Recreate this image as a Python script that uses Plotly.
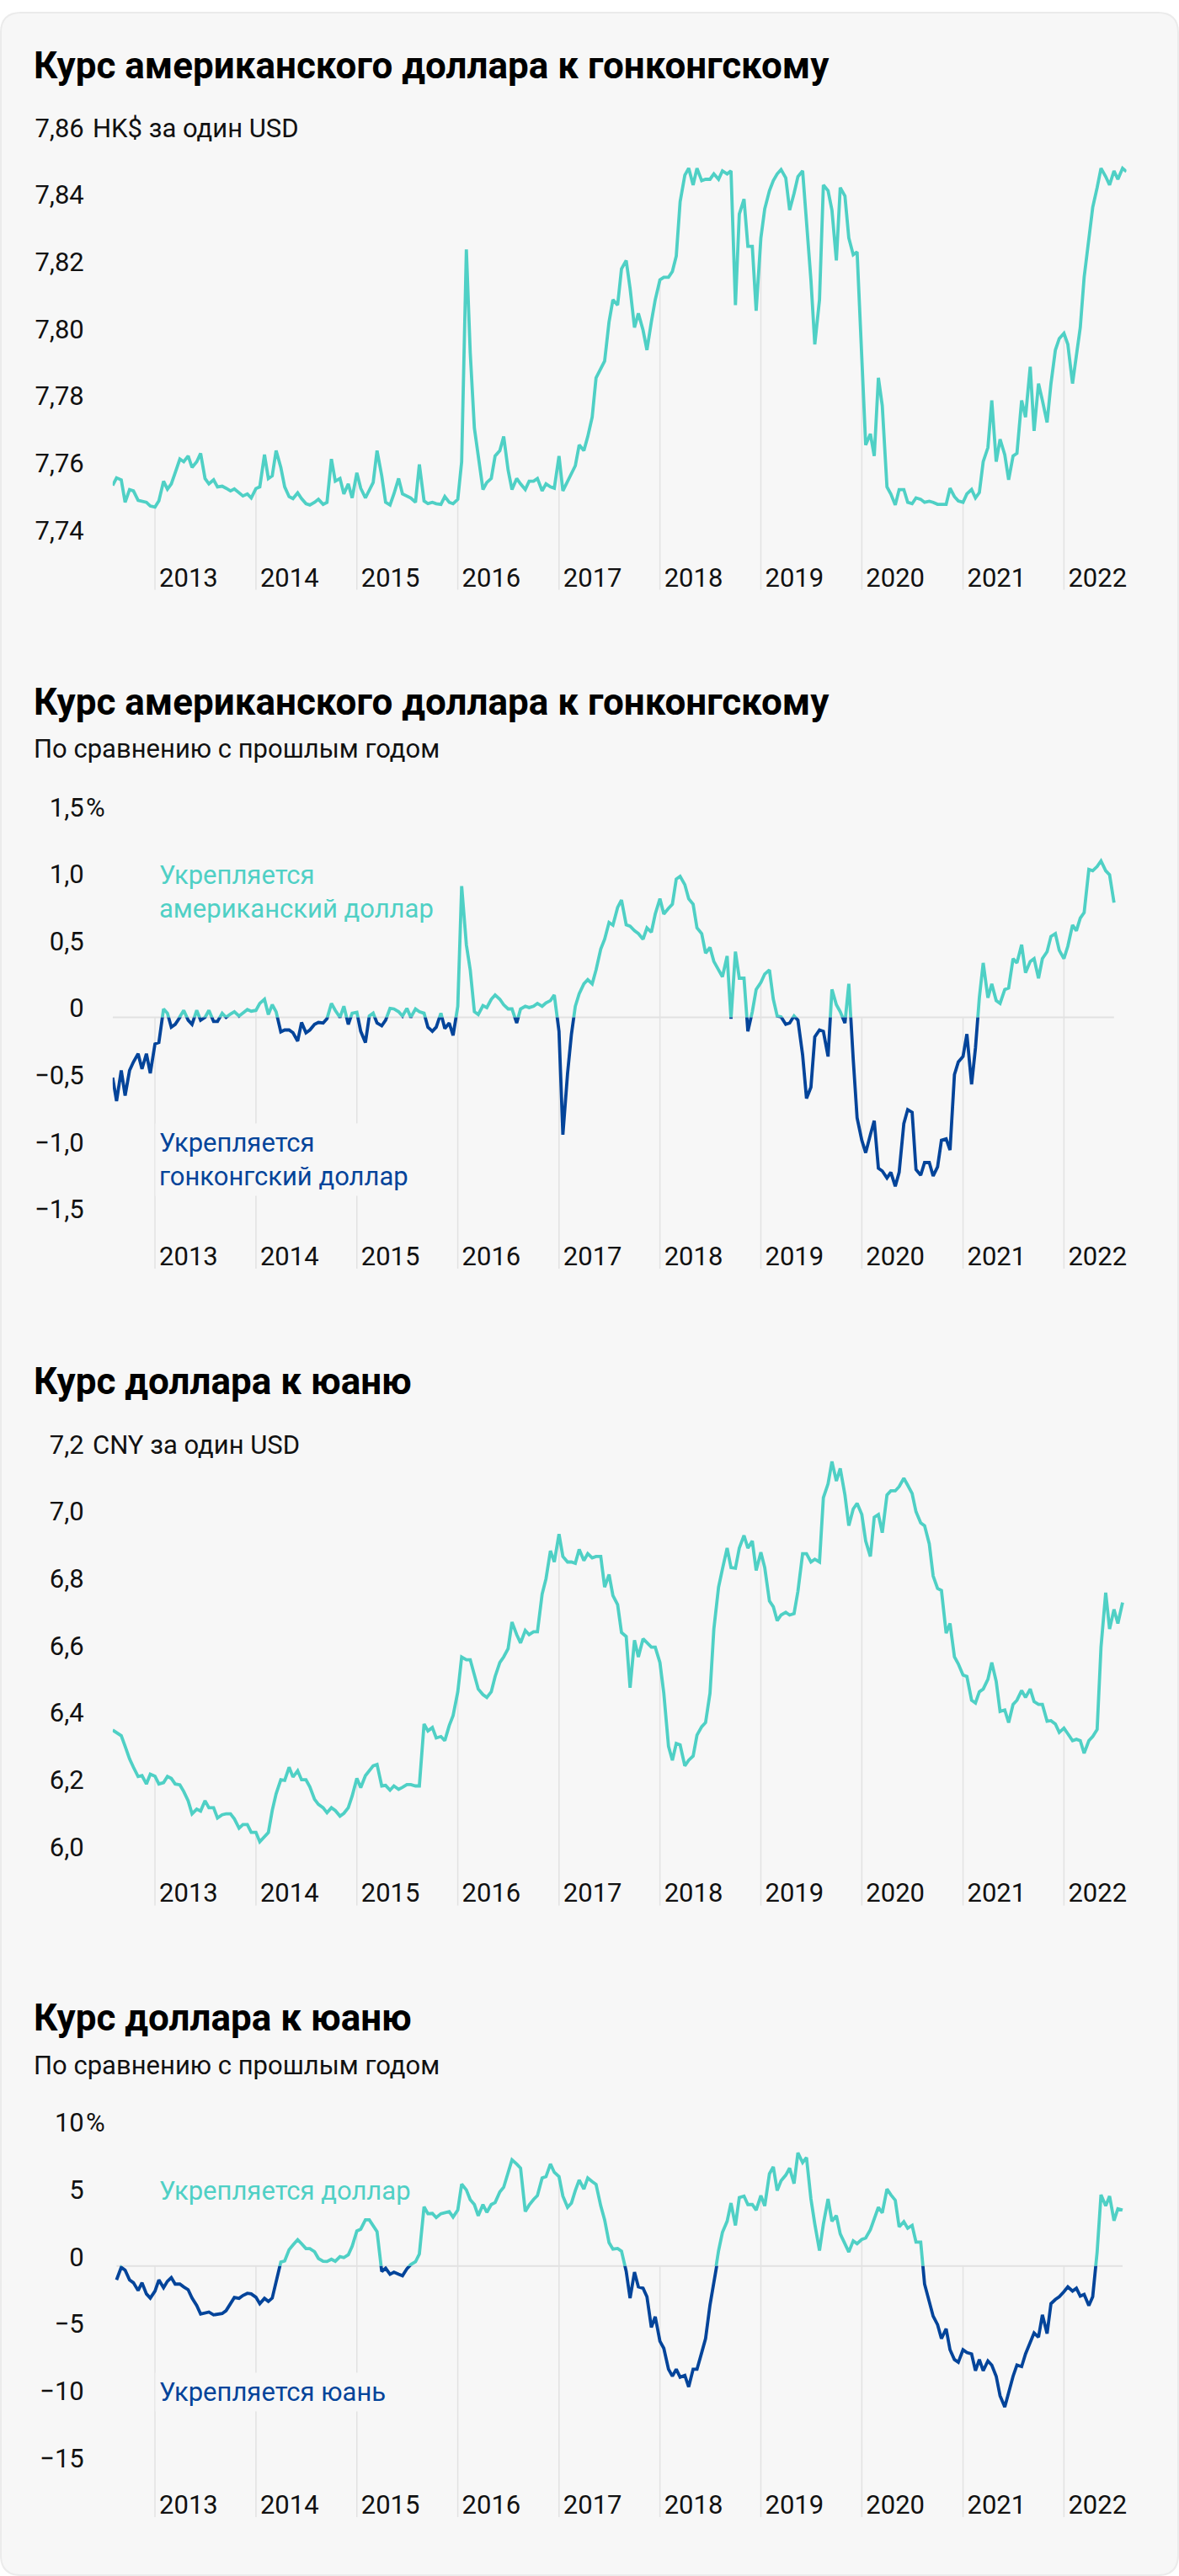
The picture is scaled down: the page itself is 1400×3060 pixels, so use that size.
import plotly.graph_objects as go
import pandas as pd

# ---------------- data ----------------
DATES = [d.strftime("%Y-%m-%d") for d in pd.date_range("2012-08-01", periods=242, freq="SMS")]
YEARS = list(range(2013, 2023))
YEAR_LABELS = [str(y) for y in YEARS]

# USD/HKD, HK$ per one USD
HKD_RATE = [
    7.7561, 7.7584, 7.7578, 7.7511, 7.7549, 7.7545, 7.7517, 7.7515, 7.7511, 7.7500,
    7.7497, 7.7515, 7.7574, 7.7550, 7.7566, 7.7599, 7.7640, 7.7632, 7.7649, 7.7615,
    7.7632, 7.7657, 7.7582, 7.7566, 7.7578, 7.7557, 7.7559, 7.7553, 7.7545, 7.7551,
    7.7538, 7.7530, 7.7536, 7.7524, 7.7552, 7.7557, 7.7653, 7.7582, 7.7590, 7.7665,
    7.7615, 7.7557, 7.7528, 7.7522, 7.7539, 7.7522, 7.7507, 7.7503, 7.7511, 7.7520,
    7.7505, 7.7511, 7.7640, 7.7574, 7.7582, 7.7536, 7.7566, 7.7524, 7.7599, 7.7553,
    7.7524, 7.7545, 7.7570, 7.7665, 7.7590, 7.7511, 7.7503, 7.7536, 7.7582, 7.7536,
    7.7530, 7.7524, 7.7511, 7.7624, 7.7515, 7.7507, 7.7511, 7.7507, 7.7505, 7.7528,
    7.7511, 7.7507, 7.7520, 7.7632, 7.8265, 7.7957, 7.7732, 7.7649, 7.7549, 7.7570,
    7.7582, 7.7649, 7.7665, 7.7707, 7.7607, 7.7549, 7.7582, 7.7566, 7.7549, 7.7574,
    7.7574, 7.7582, 7.7545, 7.7566, 7.7557, 7.7553, 7.7649, 7.7545, 7.7574, 7.7595,
    7.7620, 7.7682, 7.7665, 7.7707, 7.7765, 7.7882, 7.7907, 7.7932, 7.8049, 7.8115,
    7.8099, 7.8207, 7.8232, 7.8149, 7.8032, 7.8074, 7.8024, 7.7965, 7.8049, 7.8115,
    7.8174, 7.8182, 7.8182, 7.8199, 7.8245, 7.8407, 7.8486, 7.8507, 7.8457, 7.8507,
    7.8470, 7.8474, 7.8474, 7.8490, 7.8474, 7.8499, 7.8490, 7.8499, 7.8099, 7.8370,
    7.8415, 7.8274, 7.8274, 7.8082, 7.8299, 7.8386, 7.8440, 7.8470, 7.8490, 7.8503,
    7.8478, 7.8382, 7.8432, 7.8482, 7.8499, 7.8340, 7.8174, 7.7982, 7.8115, 7.8457,
    7.8440, 7.8382, 7.8232, 7.8449, 7.8424, 7.8299, 7.8249, 7.8257, 7.7915, 7.7682,
    7.7715, 7.7649, 7.7882, 7.7799, 7.7557, 7.7536, 7.7503, 7.7549, 7.7549, 7.7511,
    7.7507, 7.7524, 7.7520, 7.7511, 7.7514, 7.7511, 7.7505, 7.7505, 7.7505, 7.7553,
    7.7528, 7.7515, 7.7511, 7.7536, 7.7549, 7.7524, 7.7540, 7.7632, 7.7674, 7.7815,
    7.7632, 7.7699, 7.7653, 7.7578, 7.7649, 7.7657, 7.7815, 7.7765, 7.7915, 7.7724,
    7.7865, 7.7815, 7.7749, 7.7865, 7.7965, 7.7999, 7.8015, 7.7982, 7.7865, 7.7949,
    7.8032, 7.8182, 7.8290, 7.8390, 7.8449, 7.8507, 7.8482, 7.8457, 7.8499, 7.8474,
    7.8507, 7.8497,
]

# USD/HKD change vs previous year, %
HKD_YOY = [
    -0.45, -0.625, -0.396, -0.583, -0.396, -0.333, -0.271, -0.385, -0.271, -0.417,
    -0.198, -0.188, 0.063, 0.031, -0.073, -0.052, 0.0, 0.052, -0.021, -0.052,
    0.052, -0.021, 0.0, 0.052, -0.031, -0.031, 0.031, 0.0, 0.025, 0.042,
    0.01, 0.031, 0.058, 0.046, 0.052, 0.104, 0.135, 0.021, 0.094, 0.042,
    -0.108, -0.094, -0.094, -0.115, -0.177, -0.038, -0.115, -0.094, -0.052, -0.038,
    -0.042, -0.01, 0.104, 0.052, 0.0, 0.083, -0.052, 0.031, 0.038, -0.104,
    -0.188, 0.01, 0.031, -0.042, -0.063, -0.021, 0.067, 0.063, 0.042, 0.01,
    0.067, 0.0, 0.063, 0.042, 0.031, -0.073, -0.104, -0.073, 0.031, -0.083,
    -0.042, -0.135, 0.083, 0.979, 0.542, 0.354, 0.042, 0.021, 0.088, 0.073,
    0.135, 0.167, 0.135, 0.094, 0.063, 0.063, -0.042, 0.063, 0.083, 0.073,
    0.083, 0.104, 0.083, 0.108, 0.125, 0.167, -0.104, -0.875, -0.417, -0.125,
    0.083, 0.177, 0.25, 0.281, 0.25, 0.354, 0.51, 0.583, 0.708, 0.688,
    0.82, 0.875, 0.69, 0.68, 0.646, 0.625, 0.583, 0.667, 0.635, 0.771,
    0.885, 0.771, 0.813, 0.844, 1.031, 1.052, 0.99, 0.885, 0.844, 0.667,
    0.625, 0.479, 0.521, 0.417, 0.354, 0.302, 0.458, -0.01, 0.49, 0.292,
    0.292, -0.104, 0.042, 0.208, 0.26, 0.323, 0.354, 0.135, 0.01, 0.004,
    -0.052, -0.042, 0.01, -0.021, -0.281, -0.604, -0.521, -0.146, -0.094, -0.104,
    -0.292, 0.208, 0.094, 0.042, -0.042, 0.25, -0.313, -0.75, -0.917, -1.01,
    -0.875, -0.771, -1.125, -1.146, -1.198, -1.156, -1.26, -1.156, -0.792, -0.688,
    -0.708, -1.135, -1.177, -1.083, -1.083, -1.183, -1.115, -0.917, -0.906, -0.99,
    -0.427, -0.333, -0.292, -0.125, -0.5, -0.229, 0.146, 0.406, 0.146, 0.25,
    0.125, 0.104, 0.208, 0.219, 0.438, 0.406, 0.542, 0.333, 0.417, 0.438,
    0.292, 0.438, 0.49, 0.604, 0.625, 0.5, 0.438, 0.531, 0.688, 0.646,
    0.74, 0.781, 1.104, 1.094, 1.125, 1.167, 1.094, 1.063, 0.856,
]

# USD/CNY, CNY per one USD
CNY_RATE = [
    6.3756, 6.3681, 6.3589, 6.3272, 6.2897, 6.2647, 6.2372, 6.2397, 6.2147, 6.2439,
    6.2380, 6.2147, 6.2189, 6.2372, 6.2314, 6.2147, 6.2122, 6.1922, 6.1647, 6.1256,
    6.1397, 6.1339, 6.1647, 6.1439, 6.1439, 6.1131, 6.1231, 6.1256, 6.1256, 6.1106,
    6.0831, 6.0939, 6.0939, 6.0706, 6.0706, 6.0422, 6.0564, 6.0697, 6.1356, 6.1856,
    6.2272, 6.2256, 6.2647, 6.2356, 6.2539, 6.2272, 6.2272, 6.2064, 6.1689, 6.1539,
    6.1439, 6.1289, 6.1439, 6.1356, 6.1189, 6.1272, 6.1439, 6.1789, 6.2314, 6.2039,
    6.2397, 6.2564, 6.2689, 6.2731, 6.2089, 6.2106, 6.1964, 6.2089, 6.1989, 6.2047,
    6.2131, 6.2131, 6.2089, 6.2089, 6.3939, 6.3731, 6.3831, 6.3522, 6.3564, 6.3439,
    6.3889, 6.4189, 6.4897, 6.5939, 6.5856, 6.5856, 6.5439, 6.4981, 6.4814, 6.4731,
    6.4897, 6.5356, 6.5772, 6.5939, 6.6189, 6.6981, 6.6606, 6.6356, 6.6731, 6.6606,
    6.6689, 6.6689, 6.7814, 6.8272, 6.9106, 6.8772, 6.9606, 6.8939, 6.8772, 6.8772,
    6.8731, 6.9147, 6.8814, 6.9022, 6.8897, 6.8939, 6.8939, 6.8022, 6.8397, 6.7772,
    6.7500, 6.6670, 6.6550, 6.5022, 6.6439, 6.5939, 6.6481, 6.6356, 6.6231, 6.6231,
    6.5772, 6.4856, 6.3272, 6.2856, 6.3356, 6.3314, 6.2689, 6.2856, 6.2981, 6.3606,
    6.3856, 6.3981, 6.4856, 6.6772, 6.8022, 6.8564, 6.9189, 6.8606, 6.8589, 6.9189,
    6.9564, 6.9189, 6.9397, 6.8522, 6.9064, 6.8606, 6.7606, 6.7439, 6.7022, 6.7189,
    6.7272, 6.7189, 6.7231, 6.7897, 6.9022, 6.9022, 6.8772, 6.8856, 6.8772, 7.0689,
    7.1106, 7.1772, 7.1189, 7.1564, 7.0772, 6.9856, 7.0356, 7.0522, 7.0189, 6.9397,
    6.8939, 7.0106, 7.0189, 6.9647, 7.0772, 7.0897, 7.0897, 7.1022, 7.1272, 7.1064,
    7.0814, 7.0272, 6.9939, 6.9856, 6.9314, 6.8356, 6.7981, 6.7922, 6.6647, 6.6939,
    6.5939, 6.5731, 6.5397, 6.5356, 6.4647, 6.4564, 6.4897, 6.4981, 6.5272, 6.5772,
    6.5206, 6.4314, 6.4356, 6.3981, 6.4522, 6.4647, 6.4939, 6.4731, 6.4981, 6.4606,
    6.4522, 6.4522, 6.4022, 6.4039, 6.3939, 6.3689, 6.3814, 6.3647, 6.3439, 6.3481,
    6.3439, 6.3064, 6.3439, 6.3564, 6.3772, 6.6231, 6.7856, 6.6772, 6.7356, 6.6939,
    6.7564,
]

# USD/CNY change vs previous year, % (series starts at the second date)
CNY_YOY = [
    -1.04, -0.10, -0.31, -1.04, -1.25, -1.83, -1.25, -2.08, -2.39, -1.87,
    -1.04, -1.62, -1.14, -0.87, -1.35, -1.35, -1.56, -1.77, -2.39, -2.95,
    -3.58, -3.47, -3.43, -3.64, -3.60, -3.54, -3.33, -2.85, -2.35, -2.41,
    -2.20, -2.04, -2.08, -2.33, -2.81, -2.41, -2.64, -2.39, -1.25, 0.29,
    0.37, 1.21, 1.56, 1.95, 1.66, 1.29, 1.29, 1.06, 0.56, 0.35,
    0.33, 0.50, 0.35, 0.69, 0.62, 0.83, 1.46, 2.60, 2.74, 3.43,
    3.43, 3.02, 2.56, -0.42, -0.17, -0.62, -0.46, -0.62, -0.73, -0.21,
    0.10, 0.31, 0.89, 4.41, 3.89, 3.91, 3.60, 3.89, 3.95, 4.05,
    3.64, 4.16, 6.09, 5.66, 4.93, 4.57, 3.74, 4.57, 3.99, 4.57,
    4.72, 5.51, 5.86, 6.86, 7.90, 7.59, 7.28, 4.05, 4.53, 4.95,
    5.24, 6.55, 6.65, 7.59, 6.97, 6.65, 5.20, 4.37, 4.68, 5.61,
    6.40, 5.72, 6.55, 6.28, 6.07, 4.47, 3.43, 1.73, 1.25, 1.30,
    1.10, -0.40, -2.40, -0.46, -1.56, -1.66, -2.29, -4.57, -3.78, -5.61,
    -6.13, -7.69, -8.21, -7.69, -8.28, -8.15, -9.00, -7.69, -7.69, -6.45,
    -5.41, -2.91, -1.14, 1.14, 2.50, 3.33, 4.68, 3.02, 5.09, 5.20,
    4.57, 4.57, 4.16, 5.24, 4.47, 6.86, 7.38, 5.61, 6.34, 6.76,
    7.28, 6.13, 8.42, 7.69, 8.07, 4.99, 3.12, 1.14, 3.12, 4.99,
    3.33, 3.74, 2.39, 1.66, 1.04, 1.87, 1.66, 1.98, 2.08, 2.70,
    3.54, 4.37, 3.95, 5.72, 5.30, 4.89, 2.91, 3.29, 2.81, 3.02,
    1.77, 1.77, -1.35, -2.70, -3.74, -4.37, -5.41, -4.68, -6.24, -6.97,
    -7.17, -6.24, -6.45, -6.55, -7.80, -6.97, -7.80, -7.07, -7.38, -8.21,
    -9.67, -10.50, -9.32, -8.21, -7.38, -7.49, -6.55, -5.66, -4.99, -5.30,
    -3.64, -5.03, -2.81, -2.50, -2.29, -1.91, -1.56, -1.87, -1.66, -2.25,
    -2.12, -2.95, -2.29, 1.04, 5.30, 4.47, 5.20, 3.37, 4.26, 4.16,
]

HKD_RATE_DATES = DATES[:len(HKD_RATE)]
HKD_YOY_DATES = DATES[:len(HKD_YOY)]
CNY_RATE_DATES = DATES[:len(CNY_RATE)]
CNY_YOY_DATES = DATES[1:1 + len(CNY_YOY)]

HKD_TICKS = [7.74, 7.76, 7.78, 7.80, 7.82, 7.84, 7.86]
HKD_TICK_TEXT = ["7,74", "7,76", "7,78", "7,80", "7,82", "7,84", "7,86"]
HKD_YOY_TICKS = [-1.5, -1.0, -0.5, 0, 0.5, 1.0, 1.5]
HKD_YOY_TICK_TEXT = ["−1,5", "−1,0", "−0,5", "0", "0,5", "1,0", "1,5"]
CNY_TICKS = [6.0, 6.2, 6.4, 6.6, 6.8, 7.0, 7.2]
CNY_TICK_TEXT = ["6,0", "6,2", "6,4", "6,6", "6,8", "7,0", "7,2"]
CNY_YOY_TICKS = [-15, -10, -5, 0, 5, 10]
CNY_YOY_TICK_TEXT = ["−15", "−10", "−5", "0", "5", "10"]

# ---------------- styling ----------------
W, H = 1400, 3060
FONT = "Roboto"
TEAL = "#4fd0c5"
NAVY = "#03449a"
GRID = "#e2e2e2"
CARD = "#f7f7f7"
TXT = "#111111"
LW = 3.8
FS = 31          # body text size
TITLE_SIZE = 44


def py(p):
    return 1 - p / H


def px(p):
    return p / W


def dom(top, bottom):
    return [py(bottom), py(top)]


X_RANGE = ["2012-08-01", "2022-08-15"]
X_DOM = [px(133.8), px(1337.6)]
YEAR_TICKS = [f"{y}-01-01" for y in YEARS]


def drop_lines(dates, values, bottom, floor_zero=False):
    xs, ys = [], []
    for d in YEAR_TICKS:
        v = values[dates.index(d)]
        if floor_zero:
            v = max(v, 0)
        xs += [d, d, None]
        ys += [v, bottom, None]
    return xs, ys


fig = go.Figure()

# ---- chart 1 ----
R1 = [7.72496, 7.86486]
gx, gy = drop_lines(HKD_RATE_DATES, HKD_RATE, R1[0])
fig.add_trace(go.Scatter(x=gx, y=gy, mode="lines", line=dict(color=GRID, width=1.5),
                         xaxis="x", yaxis="y", hoverinfo="skip"))
fig.add_trace(go.Scatter(x=HKD_RATE_DATES, y=HKD_RATE, mode="lines",
                         line=dict(color=TEAL, width=LW), xaxis="x", yaxis="y"))

# ---- chart 2 ----
R2 = [-1.875, 1.594]
gx, gy = drop_lines(HKD_YOY_DATES, HKD_YOY, R2[0], floor_zero=True)
fig.add_trace(go.Scatter(x=gx, y=gy, mode="lines", line=dict(color=GRID, width=1.5),
                         xaxis="x2", yaxis="y2", hoverinfo="skip"))
fig.add_trace(go.Scatter(x=[HKD_YOY_DATES[0], HKD_YOY_DATES[-1]], y=[0, 0], mode="lines",
                         line=dict(color=GRID, width=2), xaxis="x2", yaxis="y2", hoverinfo="skip"))
fig.add_trace(go.Scatter(x=HKD_YOY_DATES, y=HKD_YOY, mode="lines",
                         line=dict(color=TEAL, width=LW), xaxis="x2", yaxis="y3"))
fig.add_trace(go.Scatter(x=HKD_YOY_DATES, y=HKD_YOY, mode="lines",
                         line=dict(color=NAVY, width=LW), xaxis="x2", yaxis="y4"))

# ---- chart 3 ----
R3 = [5.85175, 7.25225]
gx, gy = drop_lines(CNY_RATE_DATES, CNY_RATE, R3[0])
fig.add_trace(go.Scatter(x=gx, y=gy, mode="lines", line=dict(color=GRID, width=1.5),
                         xaxis="x3", yaxis="y5", hoverinfo="skip"))
fig.add_trace(go.Scatter(x=CNY_RATE_DATES, y=CNY_RATE, mode="lines",
                         line=dict(color=TEAL, width=LW), xaxis="x3", yaxis="y5"))

# ---- chart 4 ----
R4 = [-18.715, 11.229]
gx, gy = drop_lines(CNY_YOY_DATES, CNY_YOY, R4[0], floor_zero=True)
fig.add_trace(go.Scatter(x=gx, y=gy, mode="lines", line=dict(color=GRID, width=1.5),
                         xaxis="x4", yaxis="y6", hoverinfo="skip"))
fig.add_trace(go.Scatter(x=[CNY_YOY_DATES[0], CNY_YOY_DATES[-1]], y=[0, 0], mode="lines",
                         line=dict(color=GRID, width=2), xaxis="x4", yaxis="y6", hoverinfo="skip"))
fig.add_trace(go.Scatter(x=CNY_YOY_DATES, y=CNY_YOY, mode="lines",
                         line=dict(color=TEAL, width=LW), xaxis="x4", yaxis="y7"))
fig.add_trace(go.Scatter(x=CNY_YOY_DATES, y=CNY_YOY, mode="lines",
                         line=dict(color=NAVY, width=LW), xaxis="x4", yaxis="y8"))

# ---------------- axes ----------------
tick_font = dict(family=FONT, size=FS, color=TXT)


def xaxis(anchor):
    return dict(type="date", range=X_RANGE, domain=X_DOM, anchor=anchor,
                tickvals=YEAR_TICKS, ticktext=YEAR_LABELS, ticks="",
                showgrid=False, zeroline=False, showline=False,
                ticklabelposition="inside right", ticklabeloverflow="allow",
                ticklabelstandoff=-8, ticklabelshift=5,
                tickfont=tick_font, fixedrange=True)


def yaxis(anchor, domain, rng, tickvals=None, ticktext=None, visible=True):
    d = dict(anchor=anchor, domain=domain, range=rng, showgrid=False, zeroline=False,
             showline=False, ticks="", fixedrange=True, visible=visible)
    if tickvals is not None:
        d.update(tickvals=tickvals, ticktext=ticktext, tickfont=tick_font,
                 ticklabelshift=-11, ticklabelstandoff=33)
    return d


layout_axes = dict(
    xaxis=xaxis("y"),
    yaxis=yaxis("x", dom(130, 690), R1, HKD_TICKS, HKD_TICK_TEXT),
    xaxis2=xaxis("y2"),
    yaxis2=yaxis("x2", dom(945, 1500), R2, HKD_YOY_TICKS, HKD_YOY_TICK_TEXT),
    yaxis3=yaxis("x2", dom(945, 1200), [0, R2[1]], visible=False),
    yaxis4=yaxis("x2", dom(1200, 1500), [R2[0], 0], visible=False),
    xaxis3=xaxis("y5"),
    yaxis5=yaxis("x3", dom(1700, 2260), R3, CNY_TICKS, CNY_TICK_TEXT),
    xaxis4=xaxis("y6"),
    yaxis6=yaxis("x4", dom(2510, 2990), R4, CNY_YOY_TICKS, CNY_YOY_TICK_TEXT),
    yaxis7=yaxis("x4", dom(2510, 2690), [0, R4[1]], visible=False),
    yaxis8=yaxis("x4", dom(2690, 2990), [R4[0], 0], visible=False),
)

# ---------------- texts ----------------
ann = []


def text(t, x, y, size, color=TXT, weight=400, bg=None):
    a = dict(text=t, x=px(x), y=py(y), xref="paper", yref="paper", xanchor="left",
             yanchor="middle", align="left", showarrow=False,
             font=dict(family=FONT, size=size, color=color, weight=weight))
    if bg:
        a.update(bgcolor=bg, borderpad=4)
    ann.append(a)


text("Курс американского доллара к гонконгскому", 38, 64, TITLE_SIZE, "#000000", 700)
text("HK$ за один USD", 108, 139, FS)

text("Курс американского доллара к гонконгскому", 38, 824, TITLE_SIZE, "#000000", 700)
text("По сравнению с прошлым годом", 38, 880, FS)
text("%", 100, 950, FS)
text("Укрепляется<br>американский доллар", 184, 1050, FS, TEAL, bg=CARD)
text("Укрепляется<br>гонконгский доллар", 184, 1370, FS, NAVY, bg=CARD)

text("Курс доллара к юаню", 38, 1634, TITLE_SIZE, "#000000", 700)
text("CNY за один USD", 108, 1710, FS)

text("Курс доллара к юаню", 38, 2394, TITLE_SIZE, "#000000", 700)
text("По сравнению с прошлым годом", 38, 2451, FS)
text("%", 100, 2519, FS)
text("Укрепляется доллар", 184, 2600, FS, TEAL, bg=CARD)
text("Укрепляется юань", 184, 2840, FS, NAVY, bg=CARD)

# card background with rounded corners
r = 24
x0, x1, y0, y1 = 1, W - 1, 1, H - 1
card_path = (
    f"M {px(x0 + r)},{py(y0)} L {px(x1 - r)},{py(y0)} Q {px(x1)},{py(y0)} {px(x1)},{py(y0 + r)} "
    f"L {px(x1)},{py(y1 - r)} Q {px(x1)},{py(y1)} {px(x1 - r)},{py(y1)} "
    f"L {px(x0 + r)},{py(y1)} Q {px(x0)},{py(y1)} {px(x0)},{py(y1 - r)} "
    f"L {px(x0)},{py(y0 + r)} Q {px(x0)},{py(y0)} {px(x0 + r)},{py(y0)} Z"
)

fig.update_layout(
    width=W, height=H, margin=dict(l=0, r=0, t=0, b=0),
    paper_bgcolor="#ffffff", plot_bgcolor="rgba(0,0,0,0)",
    showlegend=False, hovermode=False,
    font=dict(family=FONT, color=TXT),
    annotations=ann,
    shapes=[dict(type="path", path=card_path, xref="paper", yref="paper",
                 fillcolor=CARD, line=dict(color="#ebebeb", width=2), layer="below")],
    **layout_axes,
)

fig.write_html("out.html", include_plotlyjs=True, config={"displayModeBar": False},
               post_script="document.body.style.margin='0';")
